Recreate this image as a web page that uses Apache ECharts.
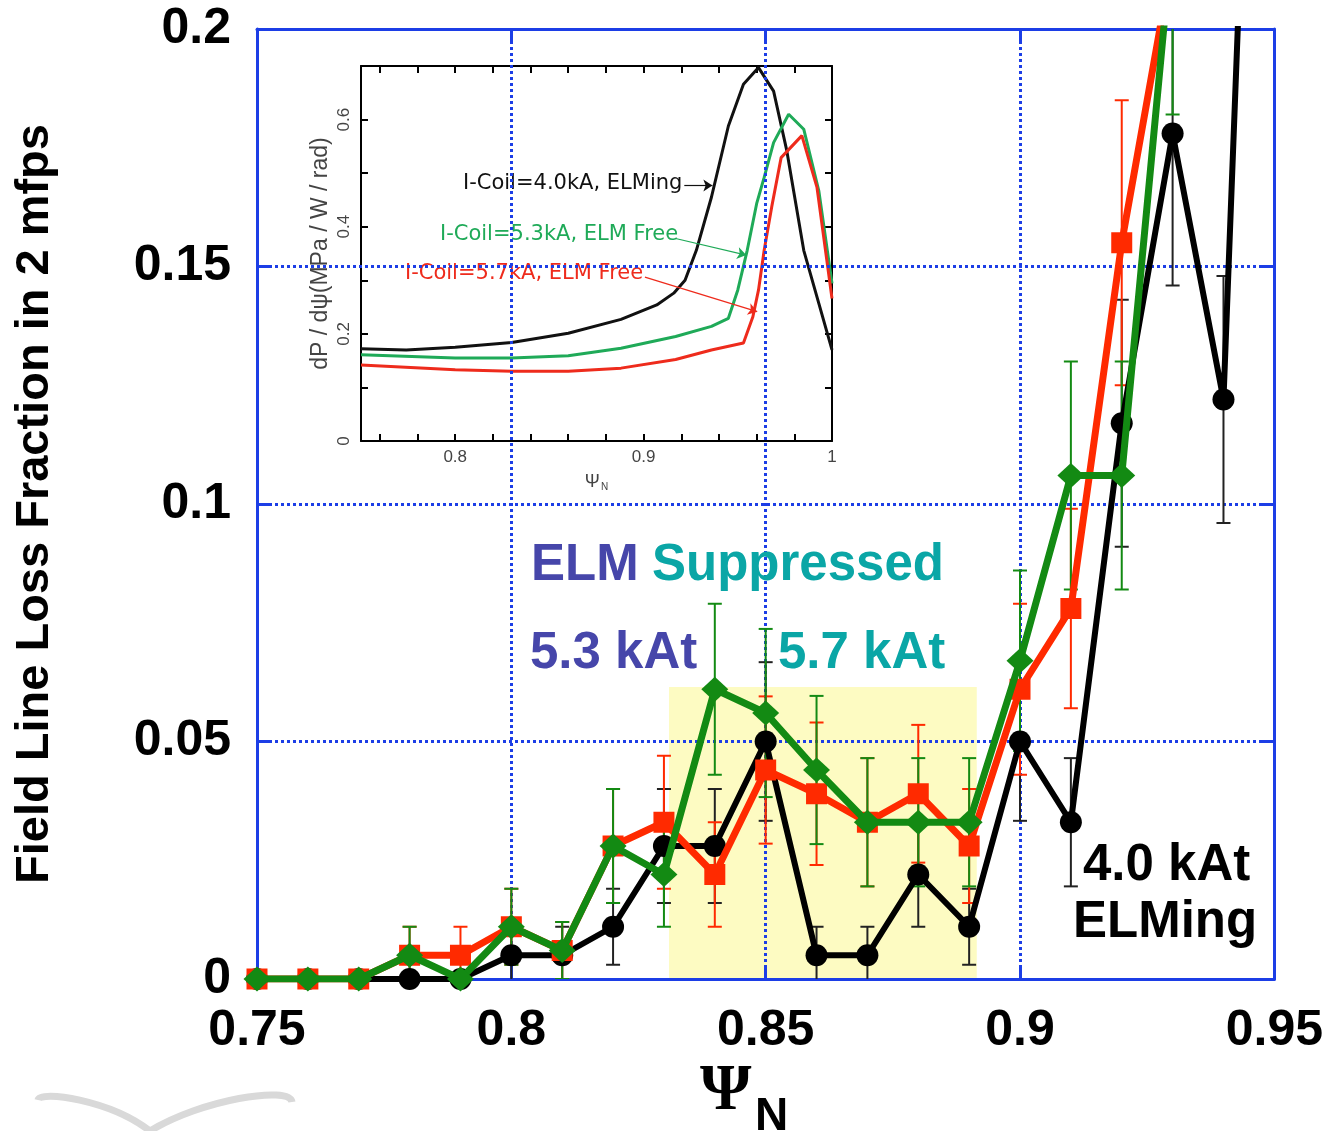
<!DOCTYPE html>
<html><head><meta charset="utf-8">
<script src="https://cdn.jsdelivr.net/npm/echarts@6/dist/echarts.min.js"></script>
<style>html,body{margin:0;padding:0;background:#fff}#c{width:1326px;height:1131px}</style>
</head><body><div id="c"></div>
<script>
// ---- main chart data ----
const psi = [0.75,0.76,0.77,0.78,0.79,0.80,0.81,0.82,0.83,0.84,0.85,0.86,0.87,0.88,0.89,0.90,0.91,0.92,0.93,0.94,0.95];
const red57   = [0,0,0,0.005,0.005,0.011,0.006,0.028,0.033,0.022,0.044,0.039,0.033,0.039,0.028,0.061,0.078,0.155,0.215,null,null];
const red57Err= [0,0,0,0.006,0.006,0.008,0.006,0.012,0.014,0.011,0.0155,0.015,0.0135,0.0145,0.012,0.018,0.021,0.030,0.012,null,null];
const green53   = [0,0,0,0.005,0,0.011,0.006,0.028,0.022,0.061,0.056,0.044,0.033,0.033,0.033,0.067,0.106,0.106,0.220,null,null];
const green53Err= [0,0,0,0.006,0,0.008,0.006,0.012,0.011,0.018,0.0177,0.0156,0.0135,0.0135,0.0135,0.019,0.024,0.024,0.038,null,null];
const black40   = [0,0,0,0,0,0.005,0.005,0.011,0.028,0.028,0.050,0.005,0.005,0.022,0.011,0.050,0.033,0.117,0.178,0.122,0.400];
const black40Err= [0,0,0,0,0,0.006,0.006,0.008,0.012,0.012,0.0167,0.006,0.006,0.011,0.008,0.0167,0.0135,0.026,0.032,0.026,0.040];
const xTicks = [0.75,0.8,0.85,0.9,0.95];
const yTicks = [0,0.05,0.1,0.15,0.2];
const suppressedBand = [0.831, 0.8915, 0.0615]; // x from, x to, y top
// ---- inset data ----
const insetBlackX = [0.75,0.774,0.8,0.83,0.86,0.888,0.907,0.916,0.922,0.928,0.936,0.945,0.953,0.961,0.969,0.976,0.985,0.993,1.0];
const insetBlackY = [0.172,0.170,0.175,0.184,0.201,0.227,0.254,0.276,0.300,0.356,0.455,0.588,0.666,0.697,0.653,0.542,0.356,0.257,0.170];
const insetGreenX = [0.75,0.8,0.83,0.86,0.888,0.917,0.936,0.945,0.95,0.955,0.96,0.964,0.969,0.977,0.985,0.993,1.0];
const insetGreenY = [0.161,0.155,0.155,0.159,0.173,0.195,0.214,0.229,0.282,0.356,0.443,0.492,0.557,0.610,0.582,0.467,0.294];
const insetRedX = [0.75,0.8,0.83,0.86,0.888,0.917,0.936,0.953,0.958,0.961,0.964,0.968,0.973,0.984,0.992,1.0];
const insetRedY = [0.142,0.133,0.130,0.130,0.136,0.152,0.170,0.183,0.232,0.282,0.356,0.437,0.529,0.570,0.474,0.266];
const insetXTicks = [0.76,0.78,0.8,0.82,0.84,0.86,0.88,0.9,0.92,0.94,0.96,0.98,1.0];
const insetXLabels = [0.8,0.9,1];

const RED='#ff2a00', GREEN='#138a13', BLACK='#000000', BLUE='#1c3ee6';
const INK='#111', IGREEN='#1faa58', IRED='#ee2b1c';
const FONT='"Liberation Sans", Arial, sans-serif';

const zip = (xs, ys) => xs.map((x,i)=>[x, ys[i]]);
const zip3 = (xs, ys, es) => xs.map((x,i)=>[x, ys[i], es[i]]);

function errRender(color, lw, cap){
  return function(params, api){
    const x=api.value(0), y=api.value(1), e=api.value(2);
    if (!(e>0) || isNaN(y)) return null;
    const t=api.coord([x,y+e]), b=api.coord([x,Math.max(y-e,-0.01)]);
    const h=cap/2;
    const st={stroke:color,lineWidth:lw};
    return {type:'group',children:[
      {type:'line',shape:{x1:t[0],y1:t[1],x2:b[0],y2:b[1]},style:st},
      {type:'line',shape:{x1:t[0]-h,y1:t[1],x2:t[0]+h,y2:t[1]},style:st},
      {type:'line',shape:{x1:b[0]-h,y1:b[1],x2:b[0]+h,y2:b[1]},style:st}
    ]};
  };
}

const chart = echarts.init(document.getElementById('c'), null, {renderer:'canvas'});
const mainAxisLine = {show:true, onZero:false, lineStyle:{color:BLUE, width:3}};
const mainTick = {show:true, inside:true, length:14, lineStyle:{color:BLUE, width:3}};
const inkLine = {show:true, onZero:false, lineStyle:{color:'#000', width:2}};
const inkTick = {show:true, inside:true, length:7, lineStyle:{color:'#000', width:2}};

const option = {
  backgroundColor:'#fff',
  animation:false,
  grid:[
    {left:257, right:50, top:29, bottom:152, containLabel:false, z:0},
    {left:361, top:66, width:471, height:375, show:true, backgroundColor:'#fff', borderWidth:0, z:0}
  ],
  xAxis:[
    {type:'value', gridIndex:0, min:0.75, max:0.95, interval:0.05, z:2,
     axisLine:mainAxisLine, axisTick:mainTick,
     axisLabel:{color:'#000', fontSize:50, fontWeight:'bold', fontFamily:FONT, margin:27,
       formatter:v=>String(+v.toFixed(2))},
     splitLine:{show:true, lineStyle:{color:BLUE, width:3, type:[3,3]}}},
    {type:'value', gridIndex:0, position:'top', min:0.75, max:0.95, interval:0.05, z:2,
     axisLine:mainAxisLine, axisTick:mainTick, axisLabel:{show:false}, splitLine:{show:false}},
    {type:'value', gridIndex:1, min:0.75, max:1.0, z:1,
     axisLine:inkLine, axisTick:Object.assign({customValues:insetXTicks}, inkTick),
     axisLabel:{customValues:insetXLabels, color:'#444', fontSize:17, fontFamily:FONT, margin:8,
       formatter:v=>String(+v.toFixed(2))},
     splitLine:{show:false},
     name:'{p|Ψ}{n|N}', nameLocation:'middle', nameGap:31,
     nameTextStyle:{rich:{p:{fontSize:18,color:'#444',fontFamily:FONT},n:{fontSize:10,color:'#444',fontFamily:FONT,padding:[10,0,0,1]}}}},
    {type:'value', gridIndex:1, position:'top', min:0.75, max:1.0, z:1,
     axisLine:inkLine, axisTick:Object.assign({customValues:insetXTicks}, inkTick), axisLabel:{show:false}, splitLine:{show:false}}
  ],
  yAxis:[
    {type:'value', gridIndex:0, min:0, max:0.2, interval:0.05, z:2,
     axisLine:mainAxisLine, axisTick:mainTick,
     axisLabel:{color:'#000', fontSize:50, fontWeight:'bold', fontFamily:FONT, margin:26,
       formatter:v=>String(+v.toFixed(2))},
     splitLine:{show:true, lineStyle:{color:BLUE, width:3, type:[3,3]}},
     name:'Field Line Loss Fraction in 2 mfps', nameLocation:'middle', nameGap:198, nameRotate:90,
     nameTextStyle:{color:'#000', fontSize:47, fontWeight:'bold', fontFamily:FONT}},
    {type:'value', gridIndex:0, position:'right', min:0, max:0.2, interval:0.05, z:2,
     axisLine:mainAxisLine, axisTick:mainTick, axisLabel:{show:false}, splitLine:{show:false}},
    {type:'value', gridIndex:1, min:0, max:0.7, interval:0.1, z:1,
     axisLine:inkLine, axisTick:inkTick,
     axisLabel:{color:'#444', fontSize:17, fontFamily:FONT, rotate:90, margin:8,
       formatter:v=>{const k=Math.round(v*10); return (k%2===0)? String(+v.toFixed(1)) : '';}},
     splitLine:{show:false},
     name:'dP / dψ(MPa / W / rad)', nameLocation:'middle', nameGap:29, nameRotate:90,
     nameTextStyle:{color:'#444', fontSize:23, fontFamily:FONT}},
    {type:'value', gridIndex:1, position:'right', min:0, max:0.7, interval:0.1, z:1,
     axisLine:inkLine, axisTick:inkTick, axisLabel:{show:false}, splitLine:{show:false}}
  ],
  series:[
    // shaded ELM-suppressed band
    {type:'custom', xAxisIndex:0, yAxisIndex:0, z:1, silent:true,
     data:[suppressedBand],
     renderItem:(p,api)=>{
       const a=api.coord([api.value(0),api.value(2)]), b=api.coord([api.value(1),0]);
       return {type:'rect', shape:{x:a[0],y:a[1],width:b[0]-a[0],height:b[1]-a[1]}, style:{fill:'#fdfbc2'}};
     }},
    // inset curves
    {type:'line', xAxisIndex:2, yAxisIndex:2, z:1, data:zip(insetBlackX, insetBlackY), showSymbol:false,
     lineStyle:{color:INK, width:3},
     markLine:{silent:true, symbol:['none','arrow'], symbolSize:9, label:{show:false},
       lineStyle:{color:INK, width:1.2, type:'solid'},
       data:[[{coord:[0.9216,0.477]},{coord:[0.9365,0.477]}]]}},
    {type:'line', xAxisIndex:2, yAxisIndex:2, z:1, data:zip(insetGreenX, insetGreenY), showSymbol:false,
     lineStyle:{color:IGREEN, width:3},
     markLine:{silent:true, symbol:['none','arrow'], symbolSize:9, label:{show:false},
       lineStyle:{color:IGREEN, width:1.2, type:'solid'},
       data:[[{coord:[0.917,0.378]},{coord:[0.9545,0.347]}]]}},
    {type:'line', xAxisIndex:2, yAxisIndex:2, z:1, data:zip(insetRedX, insetRedY), showSymbol:false,
     lineStyle:{color:IRED, width:3},
     markLine:{silent:true, symbol:['none','arrow'], symbolSize:9, label:{show:false},
       lineStyle:{color:IRED, width:1.2, type:'solid'},
       data:[[{coord:[0.9007,0.306]},{coord:[0.9603,0.2415]}]]}},
    // error bars
    {type:'custom', xAxisIndex:0, yAxisIndex:0, z:4, clip:true, silent:true,
     data:zip3(psi, black40, black40Err), renderItem:errRender('#222',2,14)},
    {type:'custom', xAxisIndex:0, yAxisIndex:0, z:4, clip:true, silent:true,
     data:zip3(psi, red57, red57Err), renderItem:errRender(RED,2,14)},
    {type:'custom', xAxisIndex:0, yAxisIndex:0, z:4, clip:true, silent:true,
     data:zip3(psi, green53, green53Err), renderItem:errRender(GREEN,2,14)},
    // main lines
    {type:'line', name:'4.0 kAt', xAxisIndex:0, yAxisIndex:0, z:5, clip:true,
     data:zip(psi, black40), symbol:'circle', symbolSize:22, showAllSymbol:true, connectNulls:false,
     lineStyle:{color:BLACK, width:6}, itemStyle:{color:BLACK}},
    {type:'line', name:'5.7 kAt', xAxisIndex:0, yAxisIndex:0, z:6, clip:true,
     data:zip(psi, red57), symbol:'rect', symbolSize:21, showAllSymbol:true,
     lineStyle:{color:RED, width:7}, itemStyle:{color:RED}},
    {type:'line', name:'5.3 kAt', xAxisIndex:0, yAxisIndex:0, z:7, clip:true,
     data:zip(psi, green53), symbol:'diamond', symbolSize:[27,25], showAllSymbol:true,
     lineStyle:{color:GREEN, width:7}, itemStyle:{color:GREEN}}
  ],
  graphic:[
    {type:'text', left:463, top:173, z:1, silent:true,
     style:{text:'I-Coil=4.0kA, ELMing', fill:INK, font:'21px "DejaVu Sans", sans-serif'}},
    {type:'text', left:440, top:224, z:1, silent:true,
     style:{text:'I-Coil=5.3kA, ELM Free', fill:IGREEN, font:'21px "DejaVu Sans", sans-serif'}},
    {type:'text', left:405, top:263, z:1, silent:true,
     style:{text:'I-Coil=5.7kA, ELM Free', fill:IRED, font:'21px "DejaVu Sans", sans-serif'}},
    {type:'text', x:531, y:566, z:10, silent:true,
     style:{text:'ELM', fill:'#4646aa', font:'bold 51px "Liberation Sans", Arial', verticalAlign:'middle'}},
    {type:'text', x:652, y:566, z:10, silent:true,
     style:{text:'Suppressed', fill:'#0aa6a6', font:'bold 51px "Liberation Sans", Arial', verticalAlign:'middle'}},
    {type:'text', x:530, y:654, z:10, silent:true,
     style:{text:'5.3 kAt', fill:'#4646aa', font:'bold 51px "Liberation Sans", Arial', verticalAlign:'middle'}},
    {type:'text', x:778, y:654, z:10, silent:true,
     style:{text:'5.7 kAt', fill:'#0aa6a6', font:'bold 51px "Liberation Sans", Arial', verticalAlign:'middle'}},
    {type:'text', x:1083, y:866, z:10, silent:true,
     style:{text:'4.0 kAt', fill:'#000', font:'bold 51px "Liberation Sans", Arial', verticalAlign:'middle'}},
    {type:'text', x:1073, y:923, z:10, silent:true,
     style:{text:'ELMing', fill:'#000', font:'bold 51px "Liberation Sans", Arial', verticalAlign:'middle'}},
    {type:'text', x:700, y:1092, z:10, silent:true,
     style:{text:'Ψ', fill:'#000', font:'bold 66px "Liberation Serif", "DejaVu Serif", serif', verticalAlign:'middle'}},
    {type:'text', x:755, y:1117, z:10, silent:true,
     style:{text:'N', fill:'#000', font:'bold 46px "Liberation Sans", Arial', verticalAlign:'middle'}},
    // faint logo swoosh at bottom-left
    {type:'bezierCurve', z:0, silent:true,
     shape:{x1:38,y1:1100,x2:150,y2:1131,cpx1:40,cpy1:1090,cpx2:110,cpy2:1100},
     style:{stroke:'#d9d9d9', lineWidth:7, fill:null}},
    {type:'bezierCurve', z:0, silent:true,
     shape:{x1:150,y1:1131,x2:292,y2:1102,cpx1:200,cpy1:1100,cpx2:290,cpy2:1085},
     style:{stroke:'#d9d9d9', lineWidth:7, fill:null}}
  ]
};
chart.setOption(option);
</script></body></html>
